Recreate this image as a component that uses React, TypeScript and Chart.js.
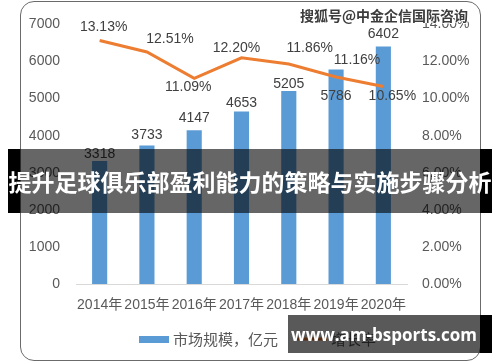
import React, { useEffect, useRef } from 'react';
import { Chart, registerables } from 'chart.js';

Chart.register(...registerables);

// ---- data ----
const categories = ['2014年', '2015年', '2016年', '2017年', '2018年', '2019年', '2020年'];
const marketSize = [3318, 3733, 4147, 4653, 5205, 5786, 6402];
const growthRate = [13.13, 12.51, 11.09, 12.2, 11.86, 11.16, 10.65];
const seriesNames = ['市场规模，亿元', '增长率'];
const leftAxis = { min: 0, max: 7000, step: 1000 };
const rightAxis = { min: 0, max: 14, step: 2 };
const titleText = '提升足球俱乐部盈利能力的策略与实施步骤分析';
const siteText = 'www.am-bsports.com';
const watermarkText = '搜狐号@中金企信国际咨询';

// ---- styles ----
const FONT = "'Liberation Sans', 'Noto Sans CJK SC', sans-serif";
const CJK = "'Noto Sans CJK SC', 'Liberation Sans', sans-serif";
const BAR_COLOR = '#5B9BD5';
const LINE_COLOR = '#ED7D31';
const TICK_COLOR = '#595959';
const LABEL_COLOR = '#404040';
const barLabelOffsets = [-7, -10, -12, -8, -7, 27, -12];
const lineLabelOffsets: [number, number][] = [
  [4, -13], [23, -13], [-6, 9], [-5, -10], [21, -16], [21, -17], [9, 10],
];

if (typeof document !== 'undefined') {
  document.body.style.margin = '0';
}

const labelPlugin = {
  id: 'valueLabels',
  afterDatasetsDraw(chart: any) {
    const ctx = chart.ctx;
    ctx.save();
    ctx.font = `14px ${FONT}`;
    ctx.fillStyle = LABEL_COLOR;
    ctx.textAlign = 'center';
    ctx.textBaseline = 'middle';
    const barMeta = chart.getDatasetMeta(0);
    barMeta.data.forEach((el: any, i: number) => {
      ctx.fillText(String(marketSize[i]), el.x, el.y + barLabelOffsets[i]);
    });
    const lineMeta = chart.getDatasetMeta(1);
    lineMeta.data.forEach((el: any, i: number) => {
      const [dx, dy] = lineLabelOffsets[i];
      ctx.fillText(growthRate[i].toFixed(2) + '%', el.x + dx, el.y + dy);
    });
    ctx.restore();
  },
  afterDraw(chart: any) {
    const ctx = chart.ctx;
    ctx.save();
    const y = 339;
    ctx.fillStyle = BAR_COLOR;
    ctx.fillRect(139, y - 3, 30, 7);
    ctx.font = `15px ${CJK}`;
    ctx.fillStyle = TICK_COLOR;
    ctx.textAlign = 'left';
    ctx.textBaseline = 'middle';
    ctx.fillText(seriesNames[0], 173, y);
    ctx.strokeStyle = LINE_COLOR;
    ctx.lineWidth = 3;
    ctx.beginPath();
    ctx.moveTo(297, y);
    ctx.lineTo(327, y);
    ctx.stroke();
    ctx.fillText(seriesNames[1], 331, y);
    ctx.restore();
  },
};

export default function App() {
  const ref = useRef<HTMLCanvasElement | null>(null);

  useEffect(() => {
    if (!ref.current) return;
    const tickFont = { family: FONT, size: 14 };
    const chart = new Chart(ref.current, {
      type: 'bar',
      data: {
        labels: categories,
        datasets: [
          {
            type: 'bar',
            label: seriesNames[0],
            data: marketSize,
            backgroundColor: BAR_COLOR,
            yAxisID: 'y',
            categoryPercentage: 1,
            barPercentage: 0.32,
            order: 1,
          },
          {
            type: 'line',
            label: seriesNames[1],
            data: growthRate,
            borderColor: LINE_COLOR,
            backgroundColor: LINE_COLOR,
            borderWidth: 3,
            pointRadius: 0,
            tension: 0,
            yAxisID: 'y1',
            order: 0,
          },
        ],
      } as any,
      options: {
        responsive: false,
        animation: false,
        layout: { padding: { top: 17, bottom: 38, left: 0, right: 0 } },
        plugins: { legend: { display: false }, tooltip: { enabled: false } },
        scales: {
          x: {
            grid: { display: false, drawTicks: false },
            border: { display: true, color: '#d9d9d9', width: 1 },
            ticks: { autoSkip: false, maxRotation: 0, minRotation: 0, padding: 13, color: TICK_COLOR, font: tickFont },
            afterFit: (s: any) => { s.height = 40; },
          },
          y: {
            position: 'left',
            min: leftAxis.min,
            max: leftAxis.max,
            grid: { display: false, drawTicks: false },
            border: { display: false },
            ticks: {
              stepSize: leftAxis.step,
              padding: 16,
              color: TICK_COLOR,
              font: tickFont,
              callback: (v: any) => String(v),
            },
            afterFit: (s: any) => { s.width = 76; },
          },
          y1: {
            position: 'right',
            min: rightAxis.min,
            max: rightAxis.max,
            grid: { display: false, drawTicks: false },
            border: { display: false },
            ticks: {
              stepSize: rightAxis.step,
              padding: 15,
              color: TICK_COLOR,
              font: tickFont,
              callback: (v: any) => Number(v).toFixed(2) + '%',
            },
            afterFit: (s: any) => { s.width = 93; },
          },
        },
      } as any,
      plugins: [labelPlugin],
    });
    return () => chart.destroy();
  }, []);

  return (
    <div style={{ position: 'relative', width: 500, height: 362, background: '#fff', overflow: 'hidden' }}>
      <div
        style={{
          position: 'absolute', left: 20, top: 1, width: 461, height: 360,
          boxSizing: 'border-box', border: '1px solid #6b6b6b', borderRadius: 14,
        }}
      />
      <canvas ref={ref} width={500} height={362} style={{ position: 'absolute', left: 0, top: 0, width: 500, height: 362 }} />
      <div
        style={{
          position: 'absolute', left: 300, top: 5, fontFamily: CJK, fontSize: 14, fontWeight: 700,
          color: '#3c3c3c', whiteSpace: 'nowrap', lineHeight: '20px',
          textShadow: '1px 0 #fff, -1px 0 #fff, 0 1px #fff, 0 -1px #fff',
        }}
      >
        {watermarkText}
      </div>
      <div
        style={{
          position: 'absolute', left: 8, top: 149, width: 484, height: 64, boxSizing: 'border-box',
          borderLeft: '12px solid #000', borderRight: '12px solid #000', background: 'rgba(0,0,0,0.6)',
        }}
      />
      <div
        style={{
          position: 'absolute', left: 0, top: 149, width: 500, height: 64, display: 'flex',
          alignItems: 'center', justifyContent: 'center', color: '#fff', fontFamily: CJK,
          fontSize: 23, fontWeight: 700, whiteSpace: 'nowrap', letterSpacing: 0,
        }}
      >
        {titleText}
      </div>
      <div
        style={{
          position: 'absolute', left: 288, top: 315, width: 204, height: 38, boxSizing: 'border-box',
          borderRight: '12px solid #000', background: 'rgba(0,0,0,0.65)',
        }}
      />
      <div
        style={{
          position: 'absolute', left: 288, top: 315, width: 192, height: 38, display: 'flex',
          alignItems: 'center', justifyContent: 'center', color: '#fff', fontFamily: "'Open Sans', sans-serif",
          fontSize: 17, fontWeight: 700, whiteSpace: 'nowrap',
        }}
      >
        {siteText}
      </div>
    </div>
  );
}
